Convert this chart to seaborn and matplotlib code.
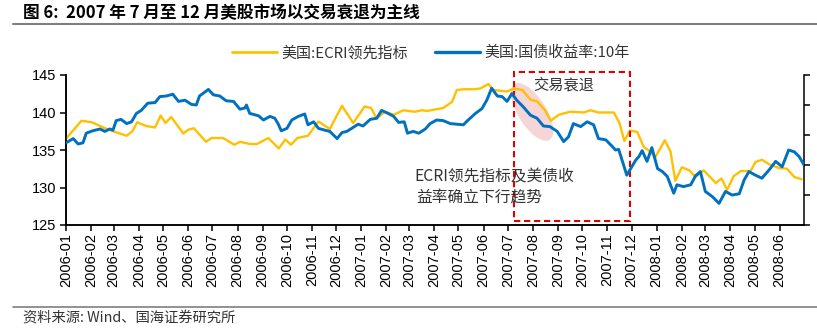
import matplotlib
matplotlib.use("Agg")
import numpy as np
import pandas as pd
import matplotlib.pyplot as plt
import seaborn as sns
from matplotlib.patches import Ellipse, Rectangle
from matplotlib.lines import Line2D
from matplotlib.transforms import ScaledTranslation
import matplotlib.dates as mdates

# ---------------- data ----------------
title_text = "图 6:  2007 年 7 月至 12 月美股市场以交易衰退为主线"
source_text = "资料来源: Wind、国海证券研究所"
ecri_label = "美国:ECRI领先指标"
yield_label = "美国:国债收益率:10年"

ecri_dates = [
    "2006-01-01", "2006-01-20", "2006-02-02", "2006-02-16", "2006-02-28", "2006-03-17",
    "2006-03-24", "2006-03-30", "2006-04-10", "2006-04-21", "2006-04-28", "2006-05-04",
    "2006-05-11", "2006-05-26", "2006-06-01", "2006-06-08", "2006-06-23", "2006-06-30",
    "2006-07-14", "2006-07-28", "2006-08-04", "2006-08-16", "2006-08-25", "2006-09-08",
    "2006-09-21", "2006-09-29", "2006-10-06", "2006-10-14", "2006-10-27", "2006-11-09",
    "2006-11-23", "2006-12-08", "2006-12-22", "2007-01-05", "2007-01-13", "2007-01-20",
    "2007-01-30", "2007-02-10", "2007-02-22", "2007-03-08", "2007-03-17", "2007-03-23",
    "2007-04-02", "2007-04-12", "2007-04-23", "2007-04-29", "2007-05-07", "2007-05-20",
    "2007-05-28", "2007-06-07", "2007-06-13", "2007-06-22", "2007-06-30", "2007-07-08",
    "2007-07-19", "2007-07-29", "2007-08-06", "2007-08-16", "2007-08-23", "2007-09-02",
    "2007-09-16", "2007-10-03", "2007-10-11", "2007-10-21", "2007-11-09", "2007-11-16",
    "2007-11-22", "2007-11-29", "2007-12-08", "2007-12-16", "2007-12-24", "2007-12-30",
    "2008-01-11", "2008-01-18", "2008-01-24", "2008-02-01", "2008-02-10", "2008-02-18",
    "2008-02-28", "2008-03-14", "2008-03-21", "2008-03-28", "2008-04-05", "2008-04-14",
    "2008-04-26", "2008-05-02", "2008-05-10", "2008-05-19", "2008-05-31", "2008-06-10",
    "2008-06-19", "2008-06-28",
]
ecri_values = [
    136.5, 138.9, 138.7, 138.0, 137.5, 136.9,
    137.5, 138.7, 138.2, 138.0, 139.6, 138.6,
    139.4, 137.2, 137.7, 137.9, 136.1, 136.6,
    136.6, 135.7, 136.1, 135.8, 135.8, 136.6,
    135.2, 136.4, 135.7, 136.6, 136.9, 138.8,
    137.8, 140.9, 138.6, 140.8, 140.6, 139.2,
    140.1, 139.7, 140.3, 140.1, 140.3, 140.2,
    140.4, 140.6, 141.4, 143.0, 143.1, 143.1,
    143.2, 143.8, 143.0, 142.9, 142.8, 143.2,
    143.0, 141.7, 141.5, 140.3, 138.9, 139.7,
    140.1, 140.0, 140.3, 140.0, 140.0, 138.6,
    136.2, 137.6, 137.4, 135.4, 134.8, 134.0,
    136.3, 134.8, 130.9, 132.7, 132.3, 131.4,
    132.3, 130.6, 131.2, 129.7, 131.5, 132.2,
    132.2, 133.4, 133.7, 133.1, 132.6, 132.5,
    131.4, 131.1,
]

yield_dates = [
    "2006-01-01", "2006-01-10", "2006-01-16", "2006-01-22", "2006-01-26", "2006-02-03",
    "2006-02-12", "2006-02-18", "2006-02-24", "2006-02-28", "2006-03-04", "2006-03-10",
    "2006-03-17", "2006-03-23", "2006-03-29", "2006-04-04", "2006-04-12", "2006-04-21",
    "2006-04-27", "2006-05-05", "2006-05-13", "2006-05-20", "2006-05-28", "2006-06-05",
    "2006-06-11", "2006-06-15", "2006-06-26", "2006-07-02", "2006-07-10", "2006-07-18",
    "2006-07-27", "2006-08-04", "2006-08-10", "2006-08-12", "2006-08-16", "2006-08-27",
    "2006-09-02", "2006-09-10", "2006-09-16", "2006-09-20", "2006-09-24", "2006-10-01",
    "2006-10-07", "2006-10-15", "2006-10-23", "2006-10-27", "2006-11-03", "2006-11-09",
    "2006-11-17", "2006-11-23", "2006-12-02", "2006-12-08", "2006-12-14", "2006-12-20",
    "2006-12-28", "2007-01-03", "2007-01-12", "2007-01-20", "2007-01-26", "2007-02-03",
    "2007-02-10", "2007-02-16", "2007-02-23", "2007-02-27", "2007-03-06", "2007-03-13",
    "2007-03-21", "2007-03-27", "2007-04-04", "2007-04-12", "2007-04-21", "2007-04-29",
    "2007-05-07", "2007-05-13", "2007-05-22", "2007-05-30", "2007-06-05", "2007-06-11",
    "2007-06-18", "2007-06-24", "2007-06-30", "2007-07-06", "2007-07-12", "2007-07-20",
    "2007-07-29", "2007-08-06", "2007-08-14", "2007-08-22", "2007-08-31", "2007-09-08",
    "2007-09-14", "2007-09-20", "2007-09-29", "2007-10-07", "2007-10-15", "2007-10-21",
    "2007-10-30", "2007-11-07", "2007-11-11", "2007-11-15", "2007-11-19", "2007-11-25",
    "2007-11-29", "2007-12-06", "2007-12-10", "2007-12-14", "2007-12-20", "2007-12-26",
    "2008-01-02", "2008-01-08", "2008-01-14", "2008-01-22", "2008-01-26", "2008-02-03",
    "2008-02-12", "2008-02-18", "2008-02-24", "2008-03-01", "2008-03-10", "2008-03-18",
    "2008-03-26", "2008-04-03", "2008-04-12", "2008-04-18", "2008-04-24", "2008-05-02",
    "2008-05-10", "2008-05-19", "2008-05-27", "2008-06-04", "2008-06-12", "2008-06-19",
    "2008-06-25", "2008-07-01",
]
yield_values = [
    4.37, 4.44, 4.35, 4.37, 4.53, 4.57,
    4.60, 4.56, 4.60, 4.58, 4.74, 4.76,
    4.69, 4.72, 4.86, 4.91, 5.03, 5.04,
    5.14, 5.15, 5.18, 5.06, 5.08, 5.01,
    5.00, 5.15, 5.26, 5.17, 5.15, 5.07,
    5.06, 4.93, 4.95, 5.00, 4.86, 4.82,
    4.75, 4.81, 4.78, 4.69, 4.57, 4.61,
    4.75, 4.81, 4.85, 4.67, 4.72, 4.61,
    4.58, 4.56, 4.44, 4.54, 4.56, 4.61,
    4.68, 4.65, 4.76, 4.78, 4.91, 4.86,
    4.81, 4.71, 4.72, 4.53, 4.56, 4.53,
    4.60, 4.69, 4.75, 4.74, 4.69, 4.68,
    4.67, 4.75, 4.86, 4.94, 5.08, 5.28,
    5.15, 5.14, 5.06, 5.19, 5.08, 4.97,
    4.83, 4.78, 4.65, 4.64, 4.56, 4.39,
    4.47, 4.69, 4.64, 4.72, 4.67, 4.44,
    4.42, 4.31, 4.25, 4.26, 4.09, 3.83,
    3.92, 4.08, 4.14, 4.24, 4.06, 4.29,
    3.94, 3.89, 3.81, 3.53, 3.67, 3.64,
    3.67, 3.82, 3.89, 3.56, 3.47, 3.36,
    3.56, 3.50, 3.52, 3.75, 3.89, 3.83,
    3.78, 3.92, 4.06, 3.97, 4.25, 4.22,
    4.14, 4.00,
]

left_ticks = [125, 130, 135, 140, 145]
right_ticks = [3.0, 3.5, 4.0, 4.5, 5.0, 5.5]
month_ticks = pd.date_range("2006-01-01", "2008-06-01", freq="MS")
month_labels = [d.strftime("%Y-%m") for d in month_ticks]

# ---------------- style ----------------
sns.set_theme(style="ticks")
plt.rcParams["font.family"] = ["Liberation Sans", "Noto Sans CJK SC", "DejaVu Sans"]
CJK = ["Noto Sans CJK SC", "DejaVu Sans"]

YELLOW = "#FFC000"
BLUE = "#0070C0"
W, H = 817, 330

fig = plt.figure(figsize=(W / 100, H / 100), dpi=100)
ax = fig.add_axes([66 / W, 1 - 225 / H, (804 - 66) / W, 150 / H])
ax2 = ax.twinx()

ecri_df = pd.DataFrame({"date": pd.to_datetime(ecri_dates), "value": ecri_values})
yield_df = pd.DataFrame({"date": pd.to_datetime(yield_dates), "value": yield_values})

sns.lineplot(data=ecri_df, x="date", y="value", ax=ax, color=YELLOW, lw=1.7, zorder=3)
sns.lineplot(data=yield_df, x="date", y="value", ax=ax2, color=BLUE, lw=2.1, zorder=3)

ax.set_xlim(pd.Timestamp("2006-01-01"), pd.Timestamp("2008-07-01"))
ax.set_ylim(125, 145)
ax2.set_ylim(3.0, 5.5)
ax.set_yticks(left_ticks)
ax.set_yticklabels([str(v) for v in left_ticks])
ax2.set_yticks(right_ticks)
ax2.set_yticklabels([f"{v:.1f}" for v in right_ticks])
ax.set_xticks(month_ticks)
ax.set_xticklabels(month_labels, rotation=90)
for a in (ax, ax2):
    a.set_xlabel("")
    a.set_ylabel("")
    a.spines["top"].set_visible(False)
    for s in a.spines.values():
        s.set_linewidth(1.1)
        s.set_color("black")
ax.spines["right"].set_visible(False)
ax.tick_params(axis="both", direction="out", length=4, width=1.1, labelsize=10.5,
               colors="black", pad=2)
ax.tick_params(axis="y", pad=3)
ax2.tick_params(axis="y", direction="out", length=4, width=1.1, labelsize=10.5,
                colors="black", pad=5)

# highlight box and ellipse
x0 = mdates.date2num(pd.Timestamp("2007-07-09"))
x1 = mdates.date2num(pd.Timestamp("2007-11-29"))
rect = Rectangle((x0, 125.6), x1 - x0, 145.45 - 125.6, fill=False, ec="#E00000",
                 lw=1.5, ls=(0, (3, 1.8)), clip_on=False, zorder=5)
ax.add_patch(rect)

ecx = mdates.date2num(pd.Timestamp("2007-07-31"))
ell = Ellipse((0, 0), 0.66, 0.28, angle=-58, fc="#E9A3A3", ec="none", alpha=0.45,
              transform=fig.dpi_scale_trans + ScaledTranslation(ecx, 140.07, ax.transData),
              zorder=1)
ax.add_patch(ell)

ax.text(pd.Timestamp("2007-08-02"), 143.6, "交易衰退", family=CJK, fontsize=11,
        color="#333333", ha="left", va="center", zorder=6)
ax.text(pd.Timestamp("2007-03-08"), 131.4, "ECRI领先指标及美债收", family=CJK, fontsize=11.3,
        color="#333333", ha="left", va="center", zorder=6)
ax.text(pd.Timestamp("2007-03-10"), 128.6, "益率确立下行趋势", family=CJK, fontsize=11.3,
        color="#333333", ha="left", va="center", zorder=6)

# legend
handles = [Line2D([], [], color=YELLOW, lw=2.0), Line2D([], [], color=BLUE, lw=2.4)]
leg = fig.legend(handles, [ecri_label, yield_label], loc="center",
                 bbox_to_anchor=(431 / W, 1 - 53 / H), ncol=2, frameon=False,
                 prop={"family": CJK, "size": 10.8}, handlelength=3.0,
                 handletextpad=0.3, columnspacing=1.8)
for t in leg.get_texts():
    t.set_color("#333333")

# title, rules, source
fig.text(23 / W, 1 - 13 / H, title_text, family=CJK, fontsize=12, fontweight="bold",
         ha="left", va="center", color="black")
fig.add_artist(Line2D([13 / W, 1.0], [1 - 23.5 / H] * 2, color="#7f7f7f", lw=1.5))
fig.add_artist(Line2D([13 / W, 1.0], [1 - 307 / H] * 2, color="#7f7f7f", lw=1.2))
fig.text(23 / W, 1 - 319 / H, source_text, family=CJK, fontsize=10.3, ha="left",
         va="center", color="#333333")

fig.savefig("out.png", dpi=100)
